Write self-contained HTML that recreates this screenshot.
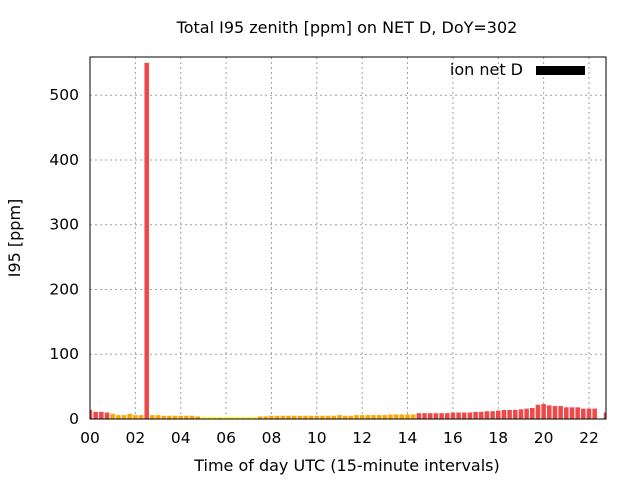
<!DOCTYPE html>
<html><head><meta charset="utf-8"><style>
body{margin:0;background:#fff}
svg{display:block;font-family:"DejaVu Sans",sans-serif}
</style></head><body>
<svg id="c" width="640" height="480"></svg>
<script>
const hours=[];for(let i=0;i<92;i++)hours.push(i*0.25);
const values=[14,11,11,10, 8,6,6,8, 6,6,550,6, 6,5,5,5, 5,5,5,4, 3,3,3,3, 3,3,3,3, 3,3,4,4,
5,5,5,5, 5,5,5,5, 5,5,5,5, 6,5,5,6, 6,6,6,6, 6,7,7,7, 7,7,9,9, 9,9,9,9, 10,10,10,10,
11,11,12,12, 13,14,14,14, 15,16,17,22, 23,21,20,20, 18,18,18,16, 16,16,null,10];
const xTicks=[0,2,4,6,8,10,12,14,16,18,20,22];
const xTickLabels=["00","02","04","06","08","10","12","14","16","18","20","22"];
const yTicks=[0,100,200,300,400,500];
const L=90,R=606,T=57,B=419,XMAX=22.75,YMAX=559;
const x=v=>L+v/XMAX*(R-L), y=v=>B-v/YMAX*(B-T);
const s=document.getElementById('c');const NS="http://www.w3.org/2000/svg";
function mk(t,a,txt){const e=document.createElementNS(NS,t);for(const k in a)e.setAttribute(k,a[k]);if(txt!=null)e.textContent=txt;s.appendChild(e);return e;}
xTicks.forEach((t,i)=>{const g=mk('line',{x1:x(t),x2:x(t),y1:T,y2:B,stroke:'#a0a0a0','stroke-dasharray':'2,3'});

const l=mk('text',{x:x(t),y:443,'font-size':15.5,'text-anchor':'middle'},xTickLabels[i]);
});
yTicks.forEach(t=>{const g=mk('line',{x1:L,x2:R,y1:y(t),y2:y(t),stroke:'#a0a0a0','stroke-dasharray':'2,3'});

const l=mk('text',{x:79,y:y(t)+5,'font-size':15.5,'text-anchor':'end'},String(t));
});
const bw=(R-L)/XMAX*0.25*0.8;
values.forEach((v,i)=>{if(v==null)return;let x0=x(hours[i])-bw/2,x1=x0+bw;x0=Math.max(x0,L);x1=Math.min(x1,R);
const col=v<4?'#ffff00':(v<9?'#ffa500':'#f04848');
const r=mk('rect',{x:x0,y:y(v),width:x1-x0,height:B-y(v),fill:col});
});
const f=mk('rect',{x:L,y:T,width:R-L,height:B-T,fill:'none',stroke:'#000','stroke-width':1});

</script>
<script>
(function(){const s=document.getElementById('c');const NS="http://www.w3.org/2000/svg";
function mk(t,a,txt){const e=document.createElementNS(NS,t);for(const k in a)e.setAttribute(k,a[k]);if(txt!=null)e.textContent=txt;s.appendChild(e);return e;}
let e=mk('text',{x:347,y:33,'font-size':16,'text-anchor':'middle'},'Total I95 zenith [ppm] on NET D, DoY=302');

e=mk('text',{x:347,y:471,'font-size':16,'text-anchor':'middle'},'Time of day UTC (15-minute intervals)');

e=mk('text',{x:20,y:238,'font-size':16,'text-anchor':'middle',transform:'rotate(-90 20 238)'},'I95 [ppm]');

e=mk('text',{x:523,y:75,'font-size':16,'text-anchor':'end'},'ion net D');

e=mk('rect',{x:536,y:66,width:49,height:9,fill:'#000'});

})();
</script>
</body></html>
